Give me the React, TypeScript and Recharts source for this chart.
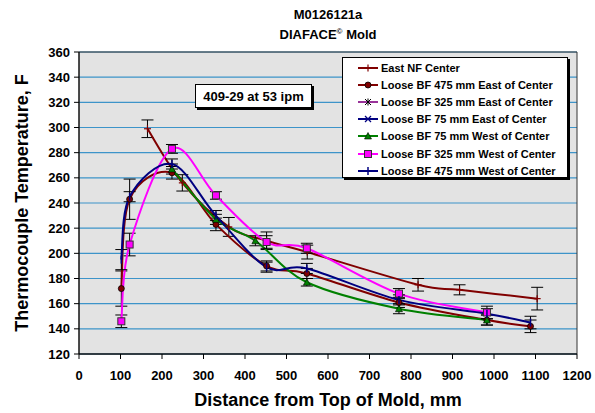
import {
  CartesianGrid,
  ErrorBar,
  Label,
  Line,
  LineChart,
  ReferenceArea,
  XAxis,
  YAxis,
} from "recharts";

const FONT = '"Liberation Sans", Arial, sans-serif';

const xTicks = [0, 100, 200, 300, 400, 500, 600, 700, 800, 900, 1000, 1100, 1200];
const yTicks = [120, 140, 160, 180, 200, 220, 240, 260, 280, 300, 320, 340, 360];

const eastNfX = [165, 249, 361, 452, 550, 817, 917, 1104];
const eastNfY = [299, 256, 221, 210, 201, 175, 171, 164];
const eastNfErr = [7, 6.5, 7.5, 7, 5.5, 5, 4, 9];

const east475X = [102, 122, 224, 330, 452, 549, 771, 983, 1088];
const east475Y = [172, 243, 264, 223, 190, 184, 161, 147, 142];
const east475Err = [14, 16, 5, 5, 4, 4, 4, 4, 5];

const west75X = [224, 330, 425, 549, 771, 983];
const west75Y = [267, 227, 210, 177, 156, 147];
const west75Err = [4, 4, 4, 3, 4, 4];

const west325X = [102, 122, 224, 330, 452, 549, 771, 983];
const west325Y = [146, 207, 283, 246, 209, 204, 168, 153];
const west325Err = [5, 9, 3.5, 3, 5, 4, 4, 5];

const west475X = [102, 122, 224, 330, 452, 549, 771, 983, 1088];
const west475Y = [195, 245, 271, 230, 189, 188, 163, 152, 145];
const west475Err = [8, 4, 4, 4, 4, 4, 4, 4, 5];

const zip = (xs: number[], ys: number[], es: number[]) =>
  xs.map((x, i) => ({ x, y: ys[i], err: es[i] }));

// catmull-rom style smoothing, close to what the spreadsheet draws
const smooth = (context: any) => {
  let pts: number[][] = [];
  return {
    areaStart() {},
    areaEnd() {},
    lineStart() {
      pts = [];
    },
    point(x: number, y: number) {
      pts.push([+x, +y]);
    },
    lineEnd() {
      const n = pts.length;
      if (!n) return;
      context.moveTo(pts[0][0], pts[0][1]);
      for (let i = 0; i < n - 1; i++) {
        const p0 = pts[Math.max(i - 1, 0)];
        const p1 = pts[i];
        const p2 = pts[i + 1];
        const p3 = pts[Math.min(i + 2, n - 1)];
        context.bezierCurveTo(
          p1[0] + (p2[0] - p0[0]) / 6,
          p1[1] + (p2[1] - p0[1]) / 6,
          p2[0] - (p3[0] - p1[0]) / 6,
          p2[1] - (p3[1] - p1[1]) / 6,
          p2[0],
          p2[1]
        );
      }
    },
  };
};

type Shape = "plus" | "circle" | "star" | "cross" | "triangle" | "square" | "bar";

const Marker = ({ cx, cy, shape, color }: { cx: number; cy: number; shape: Shape; color: string }) => {
  switch (shape) {
    case "circle":
      return <circle cx={cx} cy={cy} r={3} fill={color} stroke="#000" strokeWidth={0.8} />;
    case "square":
      return <rect x={cx - 3.5} y={cy - 3.5} width={7} height={7} fill={color} stroke="#333" strokeWidth={1} />;
    case "triangle":
      return (
        <polygon
          points={`${cx},${cy - 3.5} ${cx + 3.5},${cy + 3} ${cx - 3.5},${cy + 3}`}
          fill={color}
          stroke="#000"
          strokeWidth={0.6}
        />
      );
    case "star":
      return (
        <g stroke="#000" strokeWidth={1}>
          <line x1={cx - 3} y1={cy - 3} x2={cx + 3} y2={cy + 3} />
          <line x1={cx - 3} y1={cy + 3} x2={cx + 3} y2={cy - 3} />
          <line x1={cx} y1={cy - 3.5} x2={cx} y2={cy + 3.5} />
        </g>
      );
    case "cross":
      return (
        <g stroke={color} strokeWidth={1.2}>
          <line x1={cx - 3} y1={cy - 3} x2={cx + 3} y2={cy + 3} />
          <line x1={cx - 3} y1={cy + 3} x2={cx + 3} y2={cy - 3} />
        </g>
      );
    case "bar":
      return <line x1={cx} y1={cy - 4} x2={cx} y2={cy + 4} stroke={color} strokeWidth={1.5} />;
    default:
      return (
        <g stroke={color} strokeWidth={1.2}>
          <line x1={cx - 3.5} y1={cy} x2={cx + 3.5} y2={cy} />
          <line x1={cx} y1={cy - 3.5} x2={cx} y2={cy + 3.5} />
        </g>
      );
  }
};

const series = [
  { name: "East NF Center", color: "#800000", shape: "plus" as Shape, data: zip(eastNfX, eastNfY, eastNfErr) },
  { name: "Loose BF 475 mm East of Center", color: "#800000", shape: "circle" as Shape, data: zip(east475X, east475Y, east475Err) },
  { name: "Loose BF 325 mm East of Center", color: "#993399", shape: "star" as Shape, data: [] },
  { name: "Loose BF 75 mm East of Center", color: "#000080", shape: "cross" as Shape, data: [] },
  { name: "Loose BF 75 mm West of Center", color: "#008000", shape: "triangle" as Shape, data: zip(west75X, west75Y, west75Err) },
  { name: "Loose BF 325 mm West of Center", color: "#ff00ff", shape: "square" as Shape, data: zip(west325X, west325Y, west325Err) },
  { name: "Loose BF 475 mm West of Center", color: "#000080", shape: "bar" as Shape, data: zip(west475X, west475Y, west475Err) },
];

const LegendBox = () => (
  <div
    style={{
      position: "absolute",
      left: 342,
      top: 57,
      width: 226,
      height: 121,
      background: "#fff",
      border: "1px solid #000",
      boxShadow: "2px 2px 0 #000",
      boxSizing: "border-box",
      paddingTop: 1,
      fontFamily: FONT,
      fontWeight: "bold",
      fontSize: 11,
      color: "#000",
    }}
  >
    {series.map((s) => (
      <div key={s.name} style={{ height: 17.2, display: "flex", alignItems: "center" }}>
        <svg width={38} height={10} style={{ flex: "none" }}>
          <line x1={15} y1={5} x2={35} y2={5} stroke={s.color} strokeWidth={2} />
          <Marker cx={25} cy={5} shape={s.shape} color={s.color} />
        </svg>
        <span>{s.name}</span>
      </div>
    ))}
  </div>
);

const App = () => {
  return (
    <div style={{ position: "absolute", left: 0, top: 0, width: 595, height: 413, background: "#fff" }}>
      <LineChart
        width={595}
        height={413}
        margin={{ top: 52, right: 18, left: 0, bottom: 0 }}
        style={{ position: "absolute", left: 0, top: 0 }}
      >
        <CartesianGrid
          fill="#e3e3e3"
          vertical={false}
          stroke="#3d94c9"
          strokeWidth={1.2}
        />
        <ReferenceArea x1={0} x2={1200} y1={120} y2={360} fill="none" stroke="#333" strokeWidth={1} />
        <XAxis
          type="number"
          dataKey="x"
          domain={[0, 1200]}
          ticks={xTicks}
          interval={0}
          height={59}
          axisLine={{ stroke: "#000" }}
          tickLine={{ stroke: "#000" }}
          tickSize={5}
          tickMargin={12}
          tick={{ fill: "#000", fontFamily: FONT, fontWeight: "bold", fontSize: 13 }}
          allowDataOverflow
        >
          <Label
            content={() => (
              <text
                x={328}
                y={406}
                textAnchor="middle"
                fontFamily={FONT}
                fontWeight="bold"
                fontSize={18}
                fill="#000"
              >
                Distance from Top of Mold, mm
              </text>
            )}
          />
        </XAxis>
        <YAxis
          type="number"
          dataKey="y"
          domain={[120, 360]}
          ticks={yTicks}
          interval={0}
          width={79}
          axisLine={{ stroke: "#000" }}
          tickLine={{ stroke: "#000" }}
          tickSize={5}
          tickMargin={4}
          tick={{ fill: "#000", fontFamily: FONT, fontWeight: "bold", fontSize: 13 }}
          allowDataOverflow
        >
          <Label
            content={() => (
              <text
                x={28}
                y={203}
                transform="rotate(-90 28 203)"
                textAnchor="middle"
                fontFamily={FONT}
                fontWeight="bold"
                fontSize={18}
                fill="#000"
              >
                Thermocouple Temperature, F
              </text>
            )}
          />
        </YAxis>
        {series.map((s) => (
          <Line
            key={s.name}
            name={s.name}
            data={s.data}
            dataKey="y"
            type={smooth as any}
            stroke={s.color}
            strokeWidth={2}
            isAnimationActive={false}
            dot={(p: any) => (
              <Marker key={`${s.name}-${p.index}`} cx={p.cx} cy={p.cy} shape={s.shape} color={s.color} />
            )}
            activeDot={false}
          >
            <ErrorBar dataKey="err" direction="y" width={6} stroke="#000" strokeWidth={1} />
          </Line>
        ))}
      </LineChart>
      <div
        style={{
          position: "absolute",
          left: 0,
          width: 656,
          top: 6,
          textAlign: "center",
          fontFamily: FONT,
          fontWeight: "bold",
          fontSize: 13,
          lineHeight: "17px",
        }}
      >
        <div>M0126121a</div>
        <div>
          DIAFACE<sup style={{ fontSize: 8 }}>©</sup> Mold
        </div>
      </div>
      <LegendBox />
      <div
        style={{
          position: "absolute",
          left: 195,
          top: 84,
          width: 117,
          height: 24,
          boxSizing: "border-box",
          background: "#fff",
          border: "1px solid #000",
          boxShadow: "2px 2px 0 #000",
          fontFamily: FONT,
          fontWeight: "bold",
          fontSize: 13,
          display: "flex",
          alignItems: "center",
          justifyContent: "center",
        }}
      >
        409-29 at 53 ipm
      </div>
    </div>
  );
};

export default App;
